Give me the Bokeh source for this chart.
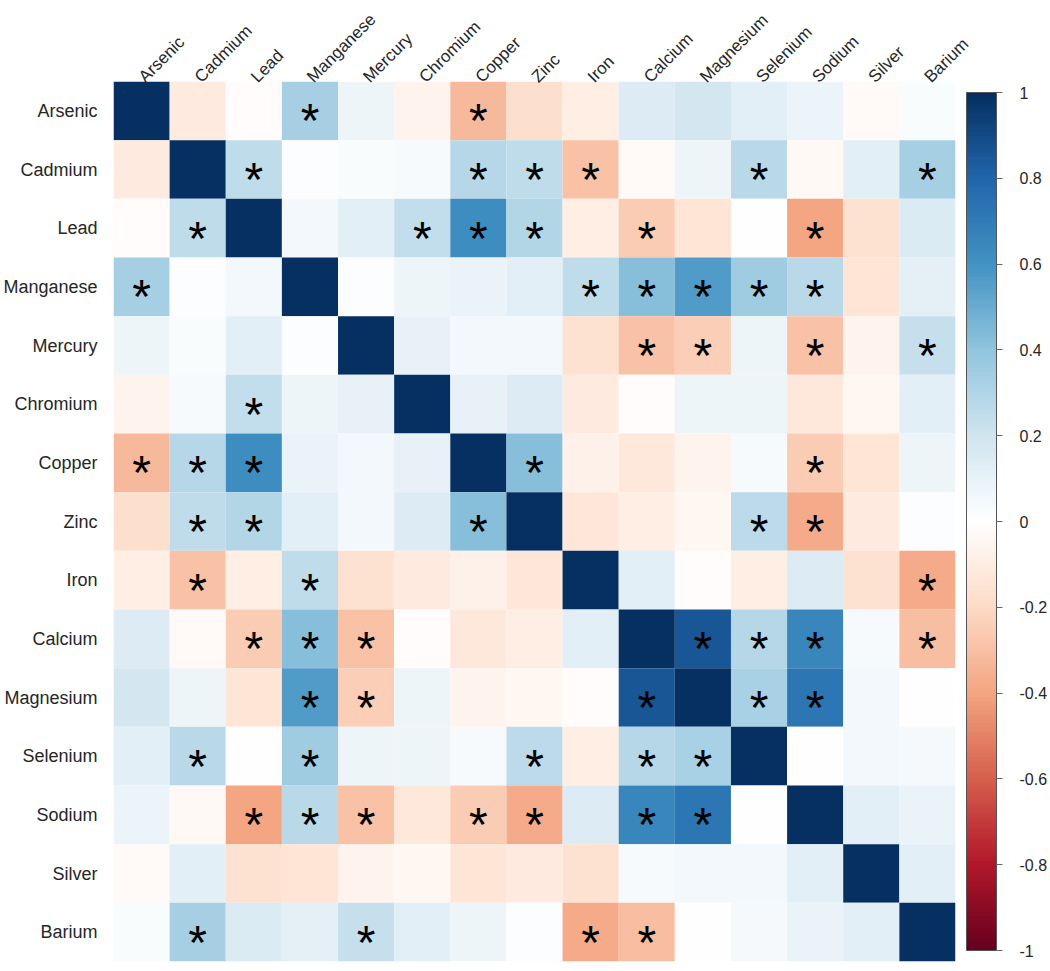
import math
from bokeh.plotting import figure
from bokeh.models import (ColumnDataSource, LinearColorMapper, ColorBar, FixedTicker,
                          PrintfTickFormatter, FactorRange)
from bokeh.core.properties import value
from bokeh.embed import file_html
from bokeh.resources import INLINE

elements = ["Arsenic", "Cadmium", "Lead", "Manganese", "Mercury", "Chromium", "Copper",
            "Zinc", "Iron", "Calcium", "Magnesium", "Selenium", "Sodium", "Silver", "Barium"]

arsenic   = [1.00, -0.12, -0.02, 0.33, 0.07, -0.06, -0.32, -0.18, -0.10, 0.14, 0.19, 0.13, 0.08, -0.03, 0.02]
cadmium   = [-0.12, 1.00, 0.25, 0.01, 0.02, 0.03, 0.28, 0.25, -0.30, -0.03, 0.07, 0.27, -0.04, 0.12, 0.33]
lead      = [-0.02, 0.25, 1.00, 0.05, 0.12, 0.24, 0.62, 0.29, -0.10, -0.26, -0.15, 0.00, -0.40, -0.17, 0.16]
manganese = [0.33, 0.01, 0.05, 1.00, 0.01, 0.07, 0.09, 0.13, 0.25, 0.42, 0.56, 0.36, 0.27, -0.15, 0.11]
mercury   = [0.07, 0.02, 0.12, 0.01, 1.00, 0.10, 0.05, 0.05, -0.17, -0.30, -0.25, 0.07, -0.30, -0.06, 0.23]
chromium  = [-0.06, 0.03, 0.24, 0.07, 0.10, 1.00, 0.10, 0.15, -0.12, -0.02, 0.07, 0.07, -0.13, -0.05, 0.13]
copper    = [-0.32, 0.28, 0.62, 0.09, 0.05, 0.10, 1.00, 0.42, -0.07, -0.13, -0.06, 0.03, -0.26, -0.15, 0.07]
zinc      = [-0.18, 0.25, 0.29, 0.13, 0.05, 0.15, 0.42, 1.00, -0.14, -0.10, -0.05, 0.26, -0.38, -0.12, 0.01]
iron      = [-0.10, -0.30, -0.10, 0.25, -0.17, -0.12, -0.07, -0.14, 1.00, 0.13, -0.02, -0.10, 0.15, -0.17, -0.38]
calcium   = [0.14, -0.03, -0.26, 0.42, -0.30, -0.02, -0.13, -0.10, 0.13, 1.00, 0.85, 0.28, 0.65, 0.03, -0.31]
magnesium = [0.19, 0.07, -0.15, 0.56, -0.25, 0.07, -0.06, -0.05, -0.02, 0.85, 1.00, 0.32, 0.72, 0.05, 0.00]
selenium  = [0.13, 0.27, 0.00, 0.36, 0.07, 0.07, 0.03, 0.26, -0.10, 0.28, 0.32, 1.00, 0.00, 0.05, 0.04]
sodium    = [0.08, -0.04, -0.40, 0.27, -0.30, -0.13, -0.26, -0.38, 0.15, 0.65, 0.72, 0.00, 1.00, 0.12, 0.09]
silver    = [-0.03, 0.12, -0.17, -0.15, -0.06, -0.05, -0.15, -0.12, -0.17, 0.03, 0.05, 0.05, 0.12, 1.00, 0.12]
barium    = [0.02, 0.33, 0.16, 0.11, 0.23, 0.13, 0.07, 0.01, -0.38, -0.31, 0.00, 0.04, 0.09, 0.12, 1.00]

corr_rows = [arsenic, cadmium, lead, manganese, mercury, chromium, copper, zinc, iron,
             calcium, magnesium, selenium, sodium, silver, barium]

significant_pairs = [
    ("Arsenic", "Manganese"), ("Arsenic", "Copper"),
    ("Cadmium", "Lead"), ("Cadmium", "Copper"), ("Cadmium", "Zinc"), ("Cadmium", "Iron"),
    ("Cadmium", "Selenium"), ("Cadmium", "Barium"),
    ("Lead", "Chromium"), ("Lead", "Copper"), ("Lead", "Zinc"), ("Lead", "Calcium"), ("Lead", "Sodium"),
    ("Manganese", "Iron"), ("Manganese", "Calcium"), ("Manganese", "Magnesium"),
    ("Manganese", "Selenium"), ("Manganese", "Sodium"),
    ("Mercury", "Calcium"), ("Mercury", "Magnesium"), ("Mercury", "Sodium"), ("Mercury", "Barium"),
    ("Copper", "Zinc"), ("Copper", "Sodium"),
    ("Zinc", "Selenium"), ("Zinc", "Sodium"),
    ("Iron", "Barium"),
    ("Calcium", "Magnesium"), ("Calcium", "Selenium"), ("Calcium", "Sodium"), ("Calcium", "Barium"),
    ("Magnesium", "Selenium"), ("Magnesium", "Sodium"),
]

colorbar_ticks = [-1, -0.8, -0.6, -0.4, -0.2, 0, 0.2, 0.4, 0.6, 0.8, 1]

# RdBu diverging palette (corrplot style), interpolated
anchors = ["#67001F", "#B2182B", "#D6604D", "#F4A582", "#FDDBC7", "#FFFFFF",
           "#D1E5F0", "#92C5DE", "#4393C3", "#2166AC", "#053061"]

def hex2rgb(h):
    h = h.lstrip("#")
    return tuple(int(h[i:i + 2], 16) for i in (0, 2, 4))

n_colors = 200
palette = []
for i in range(n_colors):
    t = i / (n_colors - 1) * (len(anchors) - 1)
    k = min(int(t), len(anchors) - 2)
    f = t - k
    a, b = hex2rgb(anchors[k]), hex2rgb(anchors[k + 1])
    c = tuple(round(a[j] + (b[j] - a[j]) * f) for j in range(3))
    palette.append("#%02x%02x%02x" % c)

mapper = LinearColorMapper(palette=palette, low=-1, high=1)

xs, ys, vals = [], [], []
for r, row_name in enumerate(elements):
    for c, col_name in enumerate(elements):
        xs.append(col_name)
        ys.append(row_name)
        vals.append(corr_rows[r][c])
cells = ColumnDataSource(dict(x=xs, y=ys, v=vals))

sx, sy = [], []
for a, b in significant_pairs:
    sx += [b, a]
    sy += [a, b]
stars = ColumnDataSource(dict(x=sx, y=sy, t=["*"] * len(sx)))

FONT = "Liberation Sans"
TXT = "#262626"

p = figure(x_range=FactorRange(*elements), y_range=FactorRange(*list(reversed(elements))),
           x_axis_location="above", frame_width=842, frame_height=880,
           min_border_left=101, min_border_top=75, min_border_bottom=8, min_border_right=0,
           output_backend="svg", toolbar_location=None)

p.rect(x="x", y="y", width=1, height=1, source=cells,
       fill_color={"field": "v", "transform": mapper}, line_color=None)

p.text(x="x", y="y", text="t", source=stars, text_font=value(FONT),
       text_font_size="48px", text_align="center", text_baseline="middle",
       y_offset=10, text_color="black")

p.outline_line_color = None
p.grid.grid_line_color = None
for ax in (p.xaxis[0], p.yaxis[0]):
    ax.axis_line_color = None
    ax.major_tick_line_color = None
    ax.minor_tick_line_color = None
    ax.major_label_text_font = FONT
    ax.major_label_text_color = TXT
p.yaxis.major_label_text_font_size = "18px"
p.xaxis.major_label_text_font_size = "17px"
p.xaxis.major_label_orientation = math.pi / 4
p.xaxis.major_label_standoff = -4
p.yaxis.major_label_standoff = 10

cb = ColorBar(color_mapper=mapper, ticker=FixedTicker(ticks=colorbar_ticks),
              formatter=PrintfTickFormatter(format="%g"),
              width=30, margin=0, padding=11, label_standoff=17,
              major_tick_in=0, major_tick_out=6, major_tick_line_color="#666666",
              bar_line_color="#555555", border_line_color=None, background_fill_alpha=0,
              major_label_text_font=FONT, major_label_text_font_size="16px",
              major_label_text_color=TXT)
p.add_layout(cb, "right")

open("out.html", "w").write(file_html(p, INLINE))
